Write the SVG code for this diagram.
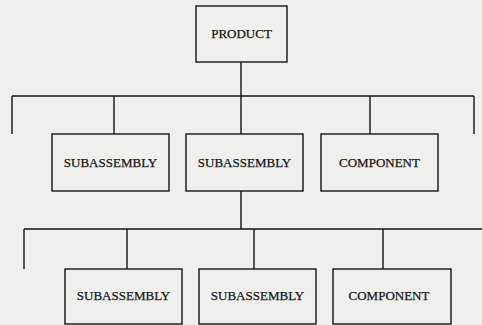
<svg xmlns="http://www.w3.org/2000/svg" width="482" height="325" viewBox="0 0 482 325">
  <style>
    .box { fill: none; stroke: #151515; stroke-width: 1.4; }
    .wire { fill: none; stroke: #151515; stroke-width: 1.4; }
    .label { font-family: "Liberation Serif", "Times New Roman", serif; font-size: 13px; fill: #151515; stroke: #151515; stroke-width: 0.25; text-anchor: middle; }
  </style>
  <rect width="482" height="325" fill="#efefed"/>

  <!-- connectors -->
  <g id="connectors">
    <!-- product to first level -->
    <path class="wire" d="M241 62 V96 M12 96 H474 M12 96 V134 M474 96 V134 M114 96 V134 M241 96 V134 M370 96 V134"/>
    <!-- middle subassembly to second level -->
    <path class="wire" d="M241 191 V229 M24 229 H482 M24 229 V269 M127 229 V269 M254 229 V269 M383 229 V269"/>
  </g>

  <g id="product">
    <rect class="box" x="196" y="6" width="91" height="56"/>
    <text class="label" x="241.5" y="38">PRODUCT</text>
  </g>

  <g id="subassembly-1">
    <rect class="box" x="52" y="134" width="117" height="57"/>
    <text class="label" x="110.5" y="167">SUBASSEMBLY</text>
  </g>
  <g id="subassembly-2">
    <rect class="box" x="186" y="134" width="117" height="57"/>
    <text class="label" x="244.5" y="167">SUBASSEMBLY</text>
  </g>
  <g id="component-1">
    <rect class="box" x="321" y="134" width="117" height="57"/>
    <text class="label" x="379.5" y="167">COMPONENT</text>
  </g>

  <g id="subassembly-3">
    <rect class="box" x="65" y="269" width="117" height="55"/>
    <text class="label" x="123.5" y="300">SUBASSEMBLY</text>
  </g>
  <g id="subassembly-4">
    <rect class="box" x="199" y="269" width="117" height="55"/>
    <text class="label" x="257.5" y="300">SUBASSEMBLY</text>
  </g>
  <g id="component-2">
    <rect class="box" x="333" y="269" width="118" height="55"/>
    <text class="label" x="389" y="300">COMPONENT</text>
  </g>
</svg>
